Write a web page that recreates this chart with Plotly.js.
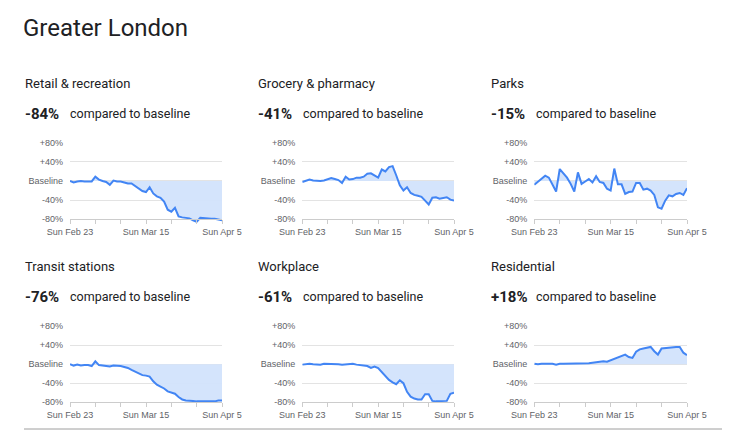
<!DOCTYPE html>
<html>
<head>
<meta charset="utf-8">
<script src="https://cdn.plot.ly/plotly-3.0.1.min.js"></script>
<style>
html,body{margin:0;padding:0;background:#fff;}
#chart{width:729px;height:441px;}
</style>
</head>
<body>
<div id="chart"></div>
<script>
// ---- Data ----
const regionTitle = 'Greater London';
const categories = ['Retail & recreation', 'Grocery & pharmacy', 'Parks', 'Transit stations', 'Workplace', 'Residential'];
const headlineChanges = ['-84%', '-41%', '-15%', '-76%', '-61%', '+18%'];
const compareText = 'compared to baseline';
const startDate = '2020-02-23';
const tickDates = ['2020-02-23', '2020-03-01', '2020-03-08', '2020-03-15', '2020-03-22', '2020-03-29', '2020-04-05'];
const tickLabels = ['Sun Feb 23', '', '', 'Sun Mar 15', '', '', 'Sun Apr 5'];
const yTickVals = [-80, -40, 0, 40, 80];
const yTickLabels = ['-80%', '-40%', 'Baseline', '+40%', '+80%'];

const retail = [0, -3, -1, 0, -1, -1, -1, 9, 3, 0, -2, -8, 1, -1, -1, -3, -5, -5, -10, -16, -21, -23, -13, -26, -32, -35, -43, -60, -64, -56, -74, -76, -77, -78, -82, -85, -77, -78, -79, -79, -79, -81, -82];
const grocery = [-2, 1, 3, 1, 0, 0, 1, 4, 6, 4, 2, -4, 9, 3, 4, 7, 7, 9, 15, 16, 11, 7, 24, 20, 29, 31, 12, -9, -20, -13, -25, -29, -31, -33, -41, -49, -35, -34, -37, -36, -34, -39, -41];
const parks = [-8, -1, 4, 11, 7, -7, -22, 25, 17, 7, -6, -22, 18, -6, -1, 4, -3, 10, -2, -4, -16, -20, 26, -7, -7, -27, -23, -22, -4, -4, -18, -16, -20, -29, -55, -58, -41, -30, -32, -27, -25, -29, -15];
const transit = [0, -3, -1, -3, -2, -2, -4, 6, -2, -3, -4, -5, -3, -3, -4, -6, -8, -12, -16, -20, -23, -24, -26, -36, -43, -47, -51, -57, -60, -62, -69, -74, -76, -76, -77, -78, -78, -78, -79, -79, -78, -76, -76];
const workplace = [-1, 0, 1, 0, -1, -1, 1, 1, 1, 0, 0, -1, 0, 1, 1, -1, -2, -3, -4, -8, -5, -8, -16, -26, -33, -38, -42, -34, -40, -58, -68, -72, -74, -74, -63, -63, -77, -78, -78, -78, -77, -62, -60];
const residential = [1, 0, 1, 1, 1, 1, -1, 1, 1, 1, 2, 1, 1, 1, 1, 2, 3, 4, 5, 6, 5, 8, 12, 15, 17, 20, 15, 13, 26, 31, 33, 34, 36, 27, 20, 33, 34, 34, 35, 36, 36, 24, 19];
const seriesList = [retail, grocery, parks, transit, workplace, residential];

// dates for x
function buildDates(start, n) {
  const out = [];
  const d0 = new Date(start + 'T00:00:00Z');
  for (let i = 0; i < n; i++) {
    const d = new Date(d0.getTime() + i * 86400000);
    out.push(d.toISOString().slice(0, 10));
  }
  return out;
}
const dates = buildDates(startDate, retail.length);

// ---- Layout geometry (pixels) ----
const W = 729, H = 441;
const px = v => v / W;
const py = v => 1 - v / H;
const colPlotX = [[70, 222], [302.3, 454], [534.3, 687]];
const colTextX = [23, 256, 489];
const rowGeom = [
  {top: 142.2, bottom: 224.1, base80: 219.3, title: 83, head: 113.7},
  {top: 325.5, bottom: 407.1, base80: 402.3, title: 266, head: 296.7}
];

const BLUE = '#4285f4';
const FILL = 'rgba(210,227,252,0.95)';
const TEXT = '#202124';
const AXTEXT = '#5f6368';
const HEADFONT = 'Roboto, "Open Sans", sans-serif';
const AXFONT = '"Liberation Sans", Arial, sans-serif';

const traces = [];
const layout = {
  width: W, height: H,
  margin: {l: 0, r: 0, t: 0, b: 0},
  paper_bgcolor: '#fff',
  plot_bgcolor: 'rgba(0,0,0,0)',
  showlegend: false,
  title: {
    text: regionTitle,
    x: px(23), xref: 'paper', xanchor: 'left',
    y: py(27.5), yref: 'paper', yanchor: 'middle',
    font: {family: HEADFONT, size: 24, color: TEXT}
  },
  annotations: [],
  shapes: [{
    type: 'line', xref: 'paper', yref: 'paper',
    x0: px(24), x1: px(722), y0: py(429), y1: py(429),
    line: {color: '#9e9e9e', width: 1}
  }]
};

for (let i = 0; i < 6; i++) {
  const r = Math.floor(i / 3), c = i % 3;
  const g = rowGeom[r];
  const xn = 'x' + (i + 1), yn = 'y' + (i + 1);
  const xk = 'xaxis' + (i === 0 ? '' : i + 1), yk = 'yaxis' + (i === 0 ? '' : i + 1);
  traces.push({
    type: 'scatter', mode: 'lines',
    x: dates, y: seriesList[i],
    xaxis: xn, yaxis: yn,
    line: {color: BLUE, width: 2},
    fill: 'tozeroy', fillcolor: FILL,
    hoverinfo: 'skip'
  });
  layout[xk] = {
    domain: [px(colPlotX[c][0]), px(colPlotX[c][1])],
    anchor: 'free', position: py(g.base80),
    type: 'date',
    range: [dates[0], dates[dates.length - 1]],
    tickmode: 'array', tickvals: tickDates, ticktext: tickLabels,
    ticks: 'outside', ticklen: 4, tickwidth: 1, tickcolor: '#cccccc',
    showline: true, linecolor: '#cccccc', linewidth: 1,
    showgrid: false, zeroline: false,
    tickfont: {family: AXFONT, size: 9, color: AXTEXT},
    fixedrange: true
  };
  layout[yk] = {
    domain: [py(g.bottom), py(g.top)],
    anchor: xn,
    range: [-90, 81],
    tickmode: 'array', tickvals: yTickVals, ticktext: yTickLabels,
    ticks: '', showgrid: true, gridcolor: '#e3e3e3', gridwidth: 1,
    zeroline: false, showline: false,
    tickfont: {family: AXFONT, size: 9, color: AXTEXT},
    ticklabelstandoff: 6,
    fixedrange: true
  };
  layout.annotations.push({
    xref: 'paper', yref: 'paper', x: px(colTextX[c]), y: py(g.title),
    xanchor: 'left', yanchor: 'middle', showarrow: false,
    text: categories[i], font: {family: HEADFONT, size: 13, color: TEXT}
  });
  layout.annotations.push({
    xref: 'paper', yref: 'paper', x: px(colTextX[c]), y: py(g.head),
    xanchor: 'left', yanchor: 'middle', showarrow: false,
    text: '<b>' + headlineChanges[i] + '</b>', font: {family: HEADFONT, size: 15, color: TEXT}
  });
  layout.annotations.push({
    xref: 'paper', yref: 'paper', x: px(colTextX[c] + 45), y: py(g.head),
    xanchor: 'left', yanchor: 'middle', showarrow: false,
    text: compareText, font: {family: HEADFONT, size: 12.5, color: TEXT}
  });
}

Plotly.newPlot('chart', traces, layout, {staticPlot: true, displayModeBar: false});
</script>
</body>
</html>
